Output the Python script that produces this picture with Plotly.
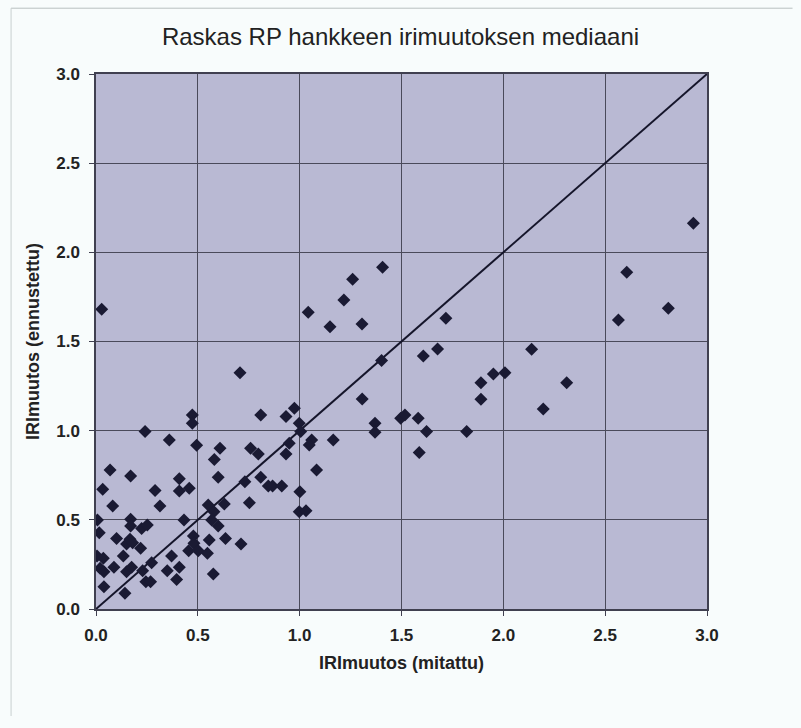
import plotly.graph_objects as go

title_text = "Raskas RP hankkeen irimuutoksen mediaani"
x_title = "IRImuutos (mitattu)"
y_title = "IRImuutos (ennustettu)"
tick_vals = [0.0, 0.5, 1.0, 1.5, 2.0, 2.5, 3.0]

# measured (x) and predicted (y) IRI change
measured = [
    0.473, 0.473, 0.241, 0.360, 0.494, 0.609, 0.581, 0.069, 0.170, 0.409,
    0.600, 0.033, 0.290, 0.409, 0.458, 0.082, 0.314, 0.551, 0.630, 0.579,
    0.007, 0.170, 0.170, 0.224, 0.252, 0.432, 0.568, 0.600, 0.016, 0.101,
    0.167, 0.150, 0.180, 0.219, 0.478, 0.481, 0.556, 0.636, 0.455, 0.502,
    0.547, 0.005, 0.036, 0.134, 0.371, 0.273, 0.020, 0.039, 0.088, 0.150,
    0.175, 0.229, 0.350, 0.409, 0.245, 0.268, 0.396, 0.576, 0.039, 0.142,
    1.307, 0.809, 0.933, 0.974, 0.998, 1.005, 1.370, 1.370, 0.949, 1.059,
    1.047, 1.165, 0.759, 0.797, 0.933, 1.083, 0.731, 0.809, 0.846, 0.867,
    0.912, 1.001, 0.753, 0.998, 1.031, 0.712,
    1.407, 1.718, 1.677, 1.607, 1.402, 2.139, 1.951, 2.008, 1.890, 1.890,
    2.196, 1.496, 1.517, 1.582, 1.623, 1.820, 1.587,
    2.933, 2.606, 2.810, 2.565, 2.311,
    1.260, 1.217, 1.042, 1.149, 1.306, 0.707,
    0.028,
]
predicted = [
    1.088, 1.041, 0.995, 0.948, 0.918, 0.901, 0.839, 0.780, 0.746, 0.731,
    0.739, 0.671, 0.664, 0.662, 0.677, 0.578, 0.578, 0.583, 0.589, 0.546,
    0.499, 0.503, 0.465, 0.452, 0.471, 0.499, 0.499, 0.465, 0.428, 0.396,
    0.391, 0.365, 0.372, 0.340, 0.409, 0.368, 0.387, 0.396, 0.327, 0.327,
    0.312, 0.297, 0.284, 0.297, 0.297, 0.260, 0.228, 0.209, 0.234, 0.209,
    0.234, 0.215, 0.215, 0.234, 0.153, 0.153, 0.166, 0.196, 0.125, 0.088,
    1.178, 1.088, 1.079, 1.126, 1.041, 0.995, 1.041, 0.991, 0.929, 0.948,
    0.920, 0.948, 0.901, 0.869, 0.869, 0.780, 0.714, 0.739, 0.690, 0.690,
    0.690, 0.658, 0.596, 0.546, 0.551, 0.365,
    1.916, 1.630, 1.458, 1.419, 1.393, 1.457, 1.318, 1.325, 1.269, 1.176,
    1.122, 1.070, 1.088, 1.070, 0.995, 0.995, 0.877,
    2.163, 1.888, 1.686, 1.621, 1.269,
    1.849, 1.733, 1.664, 1.583, 1.598, 1.325,
    1.681,
]
line_x = [0.0, 3.0]
line_y = [0.0, 3.0]

font_family = "Liberation Sans, Arial, sans-serif"

fig = go.Figure()
fig.add_trace(go.Scatter(
    x=line_x, y=line_y, mode="lines",
    line=dict(color="#15152a", width=2), hoverinfo="skip", showlegend=False,
))
fig.add_trace(go.Scatter(
    x=measured, y=predicted, mode="markers",
    marker=dict(symbol="diamond", size=10, color="#1a1a33",
                line=dict(width=0)),
    showlegend=False,
))

axis_common = dict(
    range=[0, 3], tickvals=tick_vals, tickformat=".1f",
    showgrid=True, gridcolor="#4a4a5a", gridwidth=1,
    zeroline=False, showline=True, linecolor="#404050", linewidth=1.5,
    mirror=True, ticks="outside", ticklen=5, tickcolor="#404050",
    tickfont=dict(family=font_family, size=17, color="#222222", weight="bold"),
    fixedrange=True,
)

fig.update_layout(
    width=801, height=728,
    margin=dict(l=96, r=94, t=74, b=119),
    paper_bgcolor="#f8fcfc",
    plot_bgcolor="#b9b9d3",
    title=dict(text=title_text, x=0.5, xanchor="center", y=0.95, yanchor="middle",
               font=dict(family=font_family, size=24, color="#222222")),
    xaxis=dict(**axis_common, ticklabelstandoff=5,
               title=dict(text=x_title, standoff=12,
                          font=dict(family=font_family, size=18, color="#222222",
                                    weight="bold"))),
    yaxis=dict(**axis_common, ticklabelstandoff=6,
               title=dict(text=y_title, standoff=12,
                          font=dict(family=font_family, size=18, color="#222222",
                                    weight="bold"))),
    font=dict(family=font_family),
    shapes=[
        dict(type="line", xref="paper", yref="paper",
             x0=-0.139, x1=1.14, y0=1.123, y1=1.123,
             line=dict(color="#b8c0c0", width=1)),
        dict(type="line", xref="paper", yref="paper",
             x0=-0.139, x1=-0.139, y0=1.123, y1=-0.2,
             line=dict(color="#c8d0d0", width=1)),
    ],
)

fig.write_html("out.html")
